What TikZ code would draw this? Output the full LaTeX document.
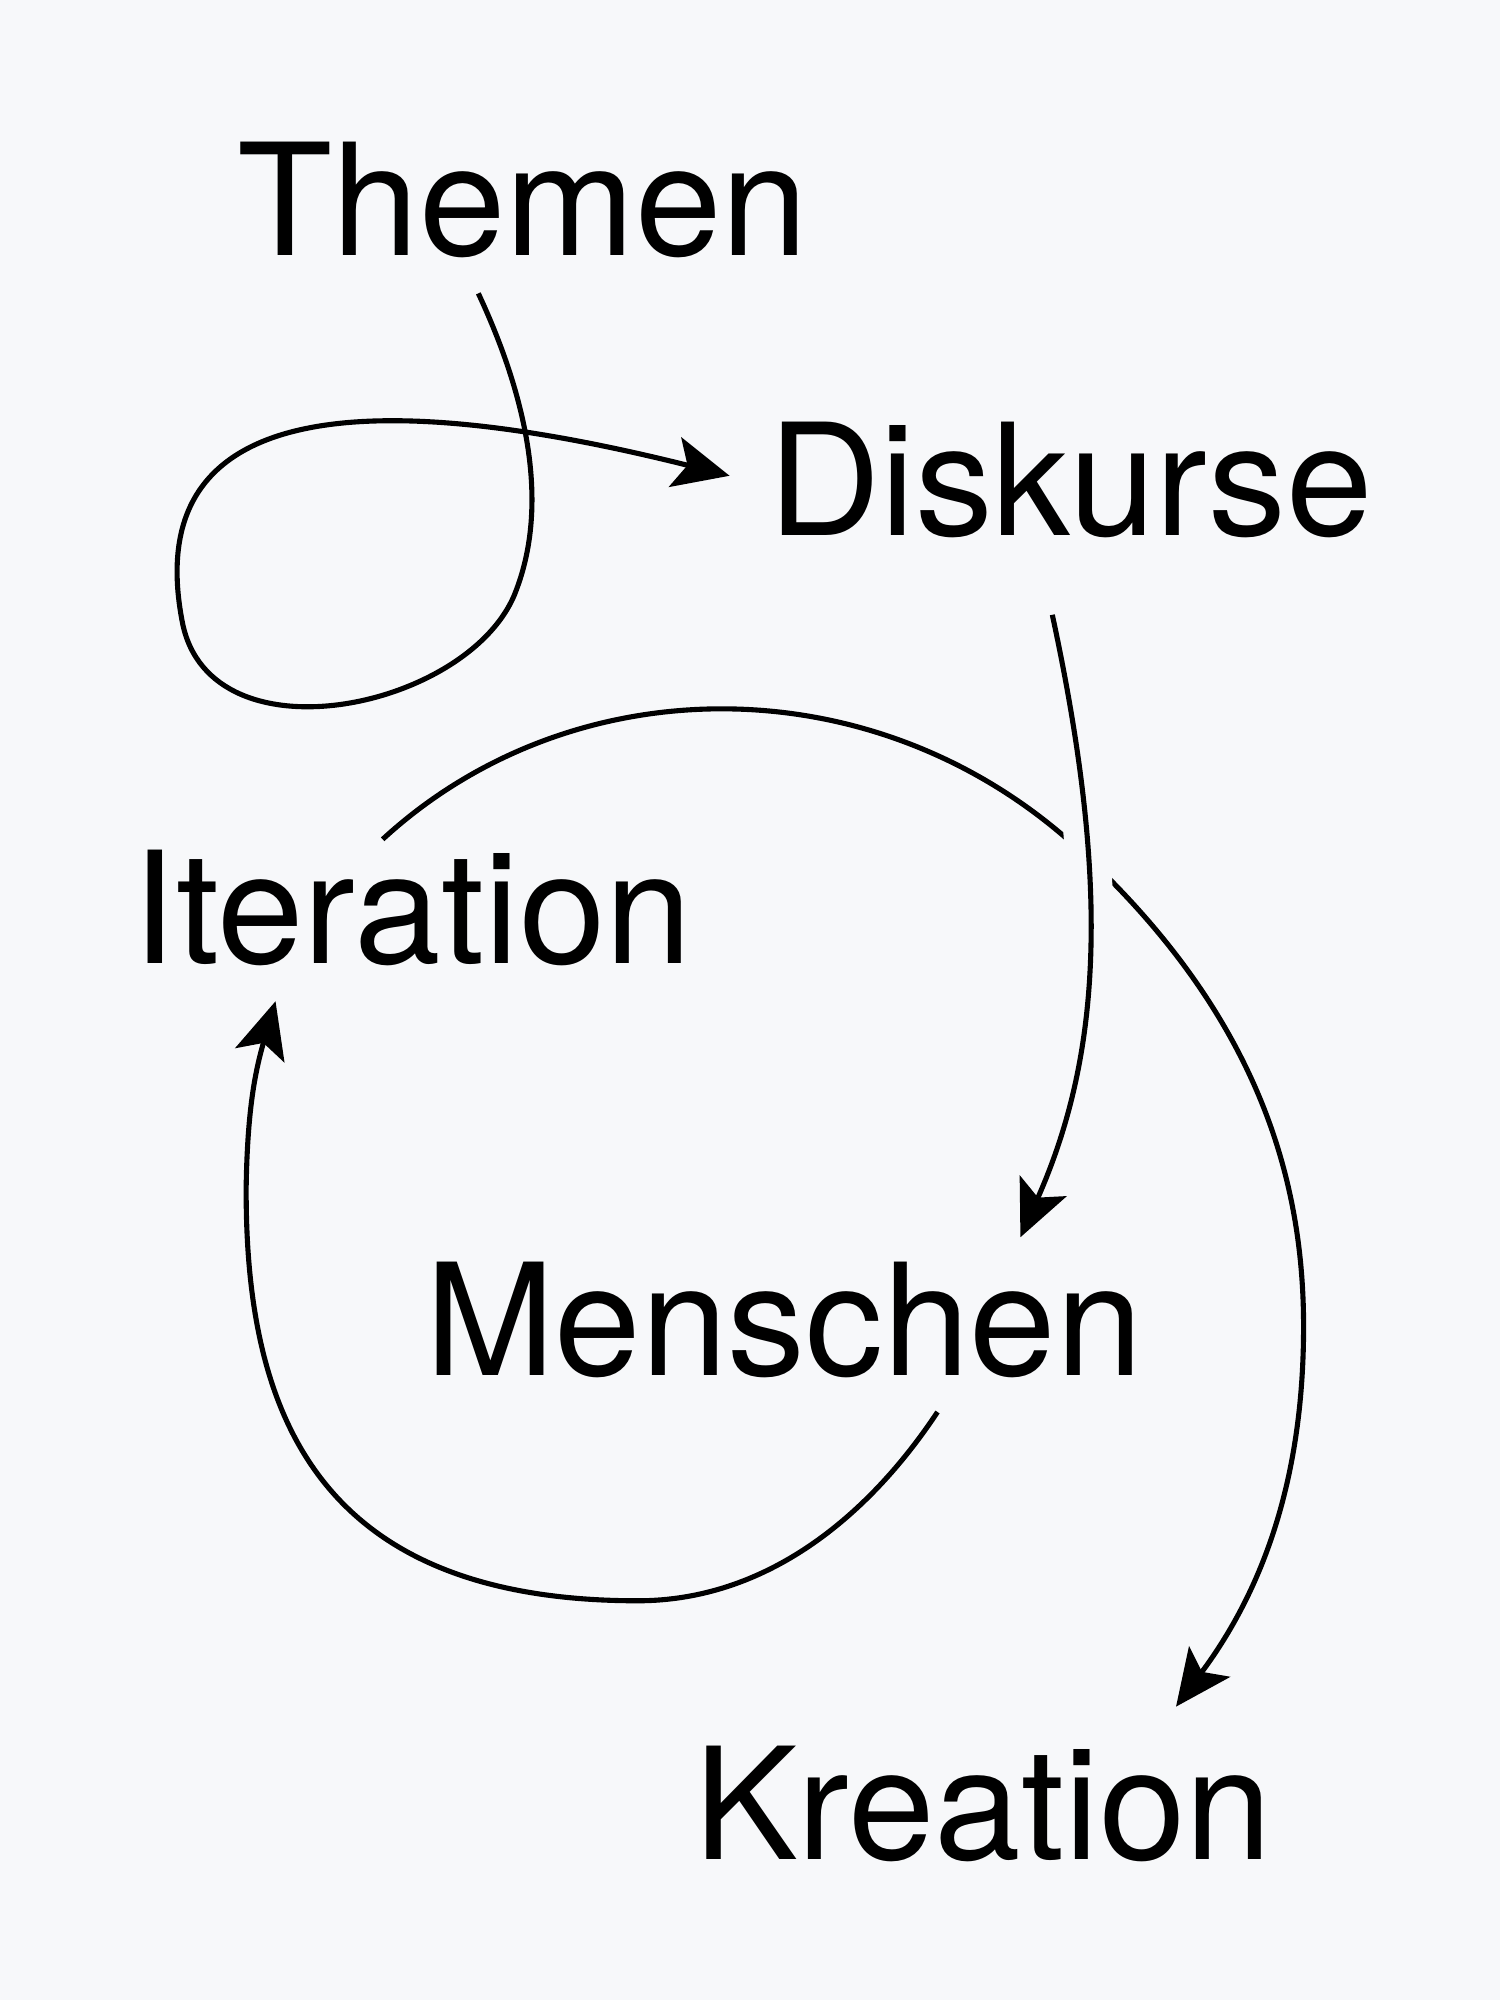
\documentclass[tikz,border=0pt]{standalone}
\usepackage{fontspec}
\setmainfont{TeX Gyre Heros}
\usetikzlibrary{arrows.meta}
\definecolor{bg}{HTML}{F7F8FA}
\begin{document}
\begin{tikzpicture}[x=1pt,y=-1pt,
  lbl/.style={anchor=base west,inner sep=0pt,font=\fontsize{122}{140}\selectfont},
  con/.style={line width=4pt,-{Stealth[length=44pt,width=40pt,inset=10pt]}}]
\fill[bg] (0,0) rectangle (1176,1568);
\useasboundingbox (0,0) rectangle (1176,1568);
\node[lbl] (themen) at (186,200) {Themen};
\node[lbl] (diskurse) at (602,420) {Diskurse};
\node[lbl] (iteration) at (104,755) {Iteration};
\node[lbl] (menschen) at (333,1078) {Menschen};
\node[lbl] (kreation) at (544,1458) {Kreation};
\coordinate (t0) at (375,230);
\coordinate (d1) at (572,373);
\coordinate (d0) at (825,482);
\coordinate (m1) at (800,970);
\coordinate (i0) at (300,658);
\coordinate (k1) at (922,1338);
\coordinate (m0) at (735,1107);
\coordinate (i1) at (216,785);
\draw[con] (t0) .. controls (410,305) and (432,390) .. (405,462)
  .. controls (372,555) and (165,600) .. (143,488)
  .. controls (118,360) and (200,280) .. (d1);
\draw[con] (i0) .. controls (450,520) and (690,520) .. (848,668)
  .. controls (990,800) and (1022,930) .. (1022,1040)
  .. controls (1022,1150) and (995,1240) .. (k1);
\draw[con,preaction={draw=bg,line width=36pt,-}] (d0) .. controls (872,700) and (862,830) .. (m1);
\draw[con] (m0) .. controls (680,1190) and (600,1255) .. (500,1255)
  .. controls (250,1255) and (192,1110) .. (193,930)
  .. controls (194,870) and (200,840) .. (i1);
\end{tikzpicture}
\end{document}
